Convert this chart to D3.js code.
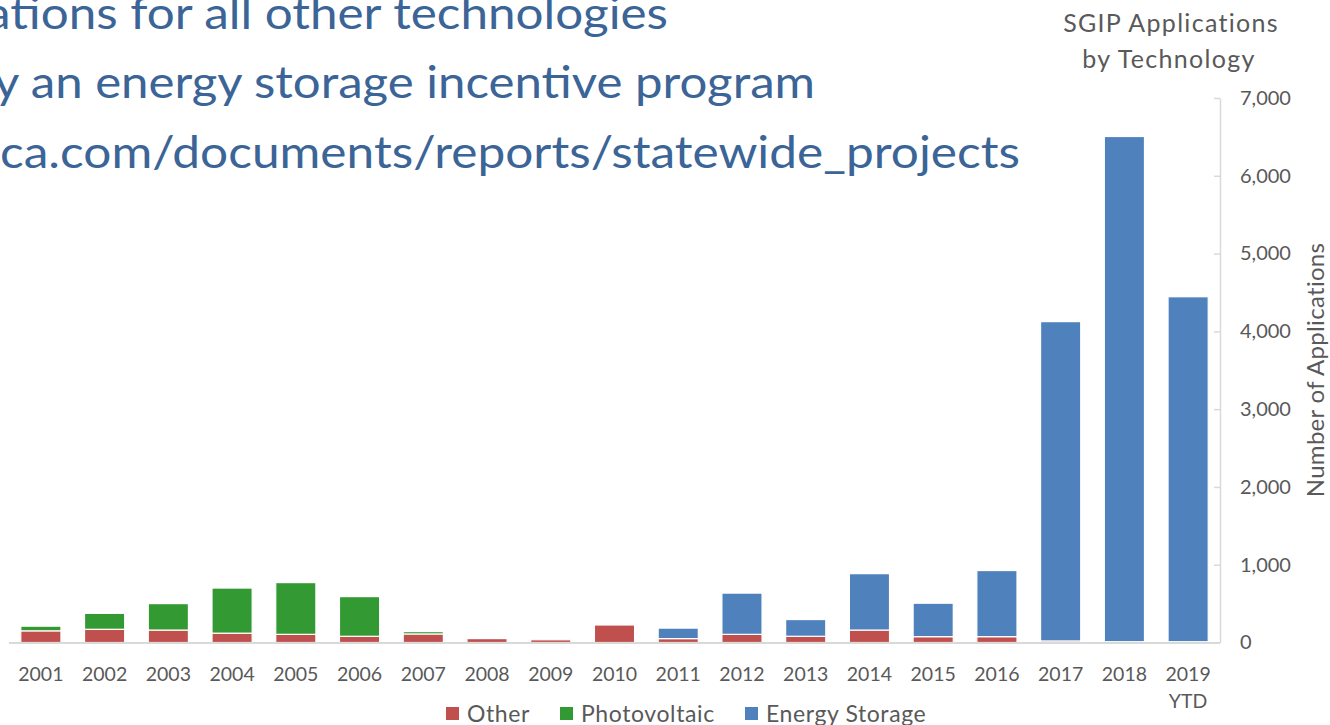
<!DOCTYPE html>
<html>
<head>
<meta charset="utf-8">
<script src="https://cdn.jsdelivr.net/npm/d3@7"></script>
<style>
  body { margin: 0; background: #fff; overflow: hidden; }
  svg { display: block; font-family: Lato, "Open Sans", sans-serif; }
</style>
</head>
<body>
<svg id="chart" width="1330" height="725"></svg>
<script>
// data
var years = ["2001","2002","2003","2004","2005","2006","2007","2008","2009","2010",
             "2011","2012","2013","2014","2015","2016","2017","2018","2019"];
var other   = [150,170,160,120,105,80,110,50,35,225,50,105,80,160,75,75,20,10,10];
var pv      = [60,205,340,580,665,510,30,0,0,0,0,0,0,0,0,0,0,0,0];
var storage = [0,0,0,0,0,0,0,0,0,0,135,530,215,725,430,850,4105,6495,4435];
var yTicks  = [0,1000,2000,3000,4000,5000,6000,7000];
var seriesNames = ["Other","Photovoltaic","Energy Storage"];
var colors = ["#C0504D","#339933","#4F81BD"];

var slideLines = [
  {text: "ations for all other technologies", x: -14, y: 29, w: 682},
  {text: "y an energy storage incentive program", x: -6, y: 98, w: 821},
  {text: "ca.com/documents/reports/statewide_projects", x: 0, y: 168, w: 1020}
];

var svg = d3.select("#chart");

// slide text behind the chart (cropped on the left)
svg.append("g").selectAll("text")
  .data(slideLines)
  .enter().append("text")
  .attr("x", d => d.x)
  .attr("y", d => d.y)
  .attr("textLength", d => d.w)
  .attr("lengthAdjust", "spacingAndGlyphs")
  .style("font-size", "44px")
  .style("fill", "#3B6497")
  .text(d => d.text);

// build table for stacking
var table = years.map(function(y, i) {
  return {year: y, "Other": other[i], "Photovoltaic": pv[i], "Energy Storage": storage[i]};
});
var stack = d3.stack().keys(seriesNames)(table);

var x = d3.scaleBand()
  .domain(years)
  .range([9, 1220])
  .paddingInner(0.37)
  .paddingOuter(0.185);

var y = d3.scaleLinear()
  .domain([0, 7000])
  .range([642.5, 98]);

// bars
svg.append("g").selectAll("g")
  .data(stack)
  .enter().append("g")
  .attr("fill", (d, i) => colors[i])
  .selectAll("rect")
  .data(d => d.filter(p => p[1] - p[0] > 0))
  .enter().append("rect")
  .attr("x", d => x(d.data.year))
  .attr("width", x.bandwidth())
  .attr("y", d => y(d[1]))
  .attr("height", d => y(d[0]) - y(d[1]))
  .attr("stroke", "#fff")
  .attr("stroke-width", 1.2);

// baseline
svg.append("line")
  .attr("x1", 9).attr("x2", 1220)
  .attr("y1", y(0) + 0.5).attr("y2", y(0) + 0.5)
  .attr("stroke", "#D9D9D9").attr("stroke-width", 2);

// right value axis, ticks pointing left, labels on the right
var yAxis = svg.append("g")
  .attr("transform", "translate(1220,0)")
  .call(d3.axisRight(y).tickValues(yTicks).tickFormat(d3.format(",")).tickSize(0).tickPadding(20));
yAxis.select(".domain").attr("stroke", "#D9D9D9").attr("stroke-width", 1.5);
yAxis.selectAll(".tick").append("line")
  .attr("x1", -6).attr("x2", 0)
  .attr("stroke", "#D9D9D9").attr("stroke-width", 1.5);
yAxis.selectAll("text")
  .style("font-size", "20px")
  .style("font-family", "Lato, 'Open Sans', sans-serif")
  .attr("fill", "#595959");

// year labels
svg.append("g").selectAll("text")
  .data(years)
  .enter().append("text")
  .attr("x", d => x(d) + x.bandwidth() / 2)
  .attr("y", 681)
  .attr("text-anchor", "middle")
  .style("font-size", "19.5px")
  .style("fill", "#595959")
  .text(d => d);
svg.append("text")
  .attr("x", x("2019") + x.bandwidth() / 2)
  .attr("y", 708)
  .attr("text-anchor", "middle")
  .style("font-size", "19.5px")
  .style("fill", "#595959")
  .text("YTD");

// axis title
svg.append("text")
  .attr("transform", "translate(1324,370) rotate(-90)")
  .attr("text-anchor", "middle")
  .style("font-size", "24px")
  .style("letter-spacing", "0.3px")
  .style("fill", "#595959")
  .text("Number of Applications");

// chart title
svg.append("text")
  .attr("x", 1171).attr("y", 32)
  .attr("text-anchor", "middle")
  .style("font-size", "25px")
  .style("letter-spacing", "1.3px")
  .style("fill", "#595959")
  .text("SGIP Applications");
svg.append("text")
  .attr("x", 1169).attr("y", 68)
  .attr("text-anchor", "middle")
  .style("font-size", "25px")
  .style("letter-spacing", "1.3px")
  .style("fill", "#595959")
  .text("by Technology");

// legend
var legendX = [446, 560, 745];
var legend = svg.append("g").selectAll("g")
  .data(seriesNames)
  .enter().append("g")
  .attr("transform", (d, i) => "translate(" + legendX[i] + ",0)");
legend.append("rect")
  .attr("x", 0).attr("y", 707)
  .attr("width", 13).attr("height", 13)
  .attr("fill", (d, i) => colors[i]);
legend.append("text")
  .attr("x", 21).attr("y", 722)
  .style("font-size", "23px")
  .style("letter-spacing", "0.6px")
  .style("fill", "#595959")
  .text(d => d);
</script>
</body>
</html>
